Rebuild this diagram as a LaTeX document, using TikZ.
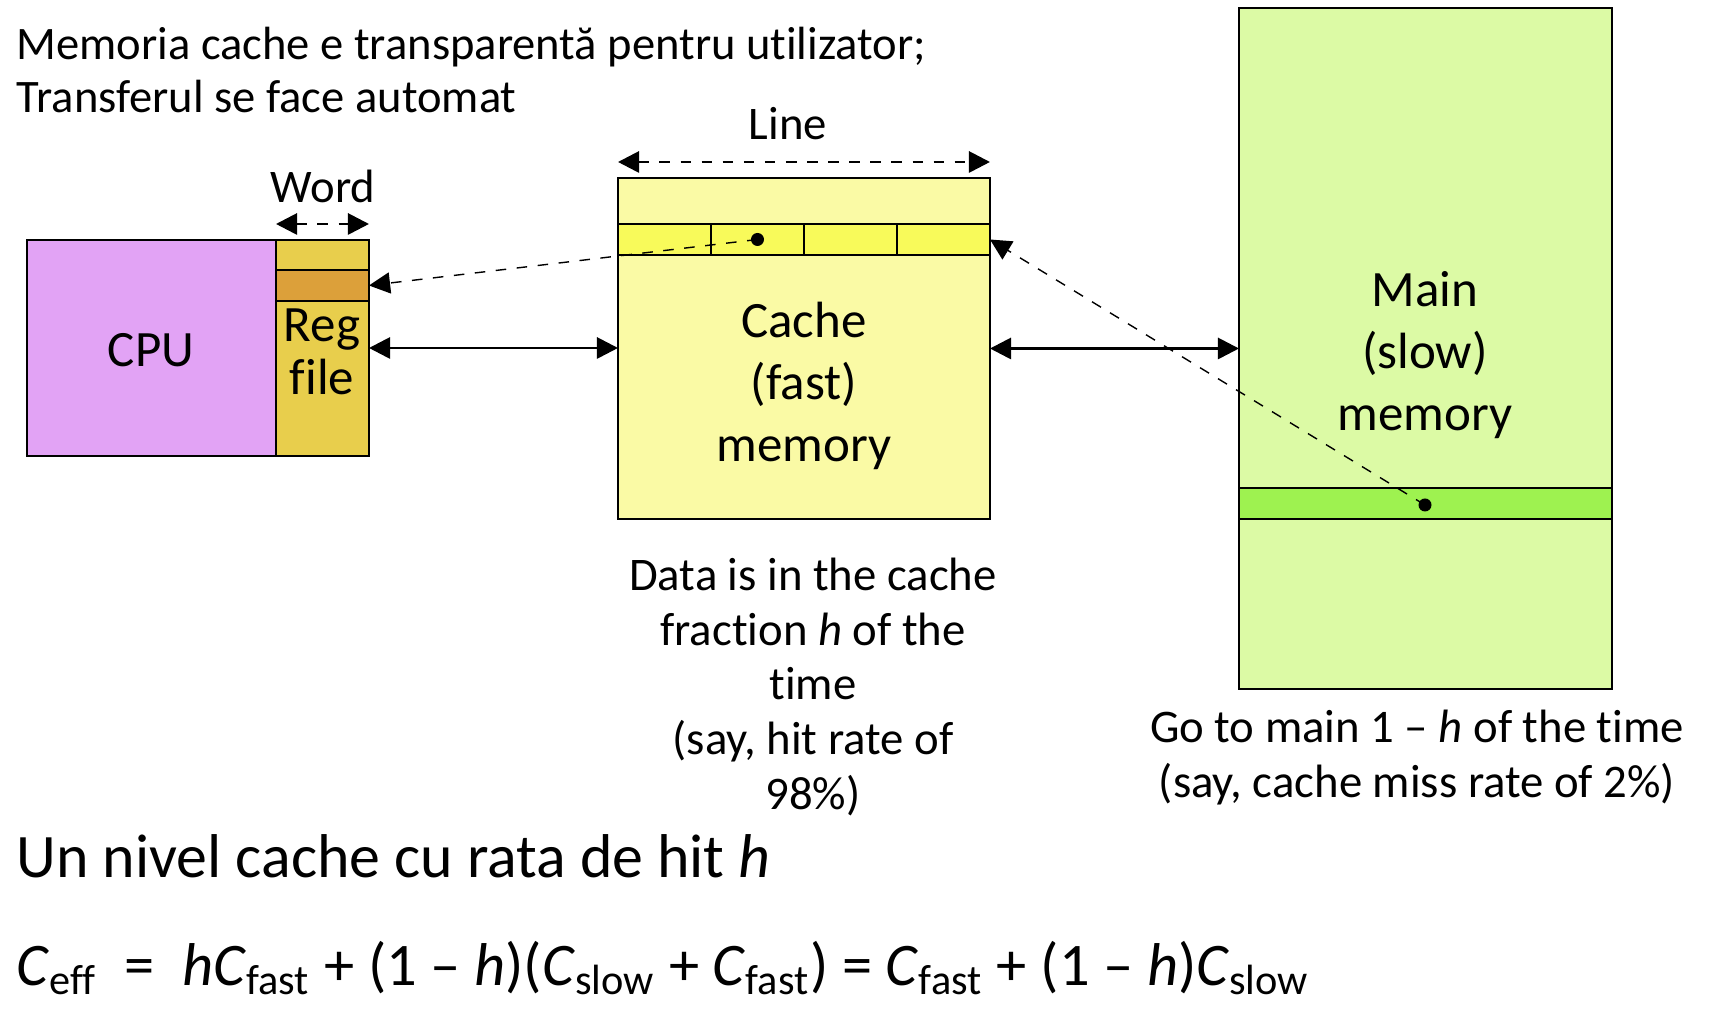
\documentclass[tikz,border=0pt]{standalone}
\usepackage{fontspec}
\setmainfont{Carlito}[Ligatures=NoCommon]
\definecolor{cpuviolet}{RGB}{226,163,245}
\definecolor{regyellow}{RGB}{232,206,76}
\definecolor{regorange}{RGB}{220,160,58}
\definecolor{cachefill}{RGB}{250,250,165}
\definecolor{cacheline}{RGB}{248,250,90}
\definecolor{mainfill}{RGB}{220,250,165}
\definecolor{mainline}{RGB}{158,242,80}
\usetikzlibrary{arrows.meta, positioning, calc}

\begin{document}
\begin{tikzpicture}[
  block/.style={draw, thick, inner sep=0pt, outer sep=0pt},
  big/.style={font=\fontsize{14.5}{17.7}\selectfont, align=center},
  note/.style={font=\fontsize{13.3}{15.6}\selectfont, align=center},
  bus/.style={thick, {Triangle[length=6pt,width=6pt]}-{Triangle[length=6pt,width=6pt]}},
  span/.style={thick, dashed, {Triangle[length=6pt,width=6pt]}-{Triangle[length=6pt,width=6pt]}},
  fetch/.style={dashed, -{Triangle[length=6pt,width=6pt]}},
]
  \useasboundingbox (0,0) rectangle (17.16,10.16);

  % CPU with its register file
  \node[block, fill=cpuviolet, minimum width=2.49cm, minimum height=2.16cm] (cpu) at (1.515,6.68) {};
  \node[big] at (1.51,6.66) {CPU};
  \node[block, fill=regyellow, minimum width=0.93cm, minimum height=2.16cm] (reg) at (3.225,6.68) {};
  \node[block, fill=regorange, minimum width=0.93cm, minimum height=0.31cm] (regword) at (3.225,7.305) {};
  \node[big, font=\fontsize{14.5}{14.9}\selectfont] at (3.22,6.64) {Reg\\file};

  % cache and its line
  \node[block, fill=cachefill, minimum width=3.72cm, minimum height=3.41cm] (cache) at (8.04,6.675) {};
  \foreach \i in {1,...,4}
    \node[block, fill=cacheline, minimum width=0.93cm, minimum height=0.31cm] (c\i) at ({6.18+0.93*\i-0.465},7.765) {};
  \node[big] at (8.04,6.30) {Cache\\(fast)\\memory};

  % main memory
  \node[block, fill=mainfill, minimum width=3.73cm, minimum height=6.81cm] (main) at (14.255,6.675) {};
  \node[block, fill=mainline, minimum width=3.73cm, minimum height=0.31cm] (mline) at (14.255,5.125) {};
  \node[big] at (14.25,6.61) {Main\\(slow)\\memory};

  \fill (c2.center) circle (0.065) coordinate (cdot);
  \fill (14.25,5.11) circle (0.065) coordinate (mdot);

  % transfers
  \draw[bus] (reg.east) -- (reg.east -| cache.west);
  \draw[bus] (cache.east) -- (cache.east -| main.west);
  \draw[fetch] (cdot) -- (regword.east);
  \draw[fetch] (mdot) -- (c4.east);

  % widths
  \draw[span] ($(reg.north west)+(0,0.16)$) -- ($(reg.north east)+(0,0.16)$);
  \node[note] at (3.23,8.30) {Word};
  \draw[span] ($(cache.north west)+(0,0.16)$) -- ($(cache.north east)+(0,0.16)$);
  \node[note] at (7.88,8.92) {Line};

  % texts
  \node[anchor=west, inner sep=0pt, align=left, font=\fontsize{13.25}{15}\selectfont] (title) at (0.16,9.46)
    {Memoria cache e transparentă pentru utilizator;\\Transferul se face automat};
  \node[note] (hit) at (8.13,3.29) {Data is in the cache\\fraction \textit{h} of the\\time\\(say, hit rate of\\98\%)};
  \node[note] (miss) at (14.17,2.585) {Go to main 1 -- \textit{h} of the time\\(say, cache miss rate of 2\%)};
  \node[anchor=west, inner sep=0pt, font=\fontsize{17.6}{20}\selectfont] (level) at (0.16,1.60)
    {Un nivel cache cu rata de hit \textit{h}};
  \node[anchor=west, inner sep=0pt, font=\fontsize{17.2}{20}\selectfont] (ceff) at (0.16,0.475)
    {\textit{C}\textsubscript{eff}~~=~~\textit{hC}\textsubscript{fast} + (1 -- \textit{h})(\textit{C}\textsubscript{slow} + \textit{C}\textsubscript{fast}) = \textit{C}\textsubscript{fast} + (1 -- \textit{h})\textit{C}\textsubscript{slow}};
\end{tikzpicture}
\end{document}
